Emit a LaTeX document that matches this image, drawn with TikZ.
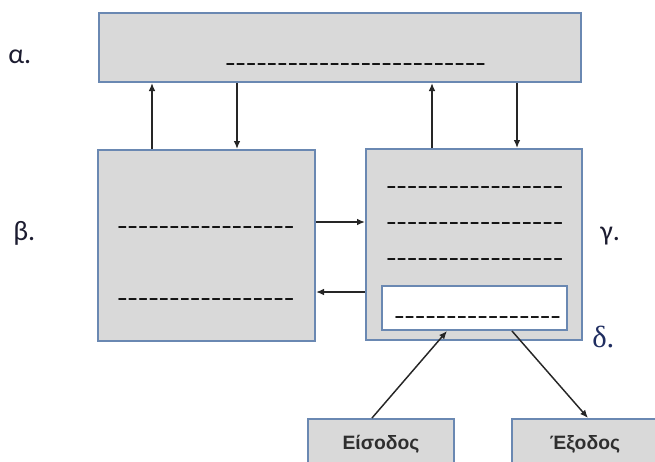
\documentclass[tikz,border=0pt]{standalone}
\usepackage{fontspec}
\usetikzlibrary{arrows.meta}
\newfontfamily\labfont{Carlito}
\newfontfamily\delfont{Liberation Serif}
\newfontfamily\dashfont[LetterSpace=1]{Carlito}
\newfontfamily\iofont{Liberation Sans}
\definecolor{boxfill}{HTML}{D9D9D9}
\definecolor{boxline}{HTML}{6A88B2}
\definecolor{labdark}{HTML}{1C1C30}
\definecolor{deltablue}{HTML}{1F2D60}
\definecolor{iotext}{HTML}{2E2E2E}
\definecolor{arrowdark}{HTML}{262626}
\newcommand\dashrow[1]{\scalebox{1}[0.75]{\foreach\i in {1,...,#1}{-}}}
\begin{document}
\begin{tikzpicture}[x=0.75pt,y=-0.75pt,
  blk/.style={draw=boxline, fill=boxfill, line width=1.5pt, rectangle, inner sep=0pt},
  conn/.style={draw=arrowdark, line width=1.1pt, -{Latex[length=6pt,width=5pt]}},
  dashtxt/.style={anchor=base west, inner sep=0pt, text=black, font=\dashfont\fontsize{24.75pt}{24.75pt}\selectfont},
  lab/.style={anchor=base west, inner sep=0pt, text=labdark, font=\labfont\fontsize{21pt}{21pt}\selectfont},
  iotxt/.style={text=iotext, font=\iofont\bfseries\fontsize{14.5pt}{14.5pt}\selectfont}]
\clip (0,0) rectangle (655,461);
\useasboundingbox (0,0) rectangle (655,461);
% boxes
\node[blk, minimum width=482*0.75pt, minimum height=69*0.75pt] (A) at (340,47.5) {};
\node[blk, minimum width=217*0.75pt, minimum height=191*0.75pt] (B) at (206.5,245.5) {};
\node[blk, minimum width=216*0.75pt, minimum height=191*0.75pt] (G) at (474,244.5) {};
\node[blk, fill=white, minimum width=185*0.75pt, minimum height=44*0.75pt] (D) at (474.5,308) {};
\node[blk, iotxt, minimum width=146*0.75pt, minimum height=50*0.75pt] (In) at (381,444) {Είσοδος};
\node[blk, iotxt, minimum width=146*0.75pt, minimum height=50*0.75pt] (Out) at (585,444) {Έξοδος};
% dashed text rows
\node[dashtxt] (da) at (225,71.5) {\dashrow{25}};
\node[dashtxt] (db1) at (117,234.5) {\dashrow{17}};
\node[dashtxt] (db2) at (117,306.5) {\dashrow{17}};
\node[dashtxt] (dg1) at (386,194.5) {\dashrow{17}};
\node[dashtxt] (dg2) at (386,230.5) {\dashrow{17}};
\node[dashtxt] (dg3) at (386,266.5) {\dashrow{17}};
\node[dashtxt] (dd) at (394,324.5) {\dashrow{16}};
% labels
\node[lab] (la) at (8,63) {α.};
\node[lab] (lb) at (13,240) {β.};
\node[lab] (lg) at (600,240) {γ.};
\node[lab, text=deltablue, font=\delfont\fontsize{23pt}{23pt}\selectfont] (ld) at (592,347) {δ.};
% connectors
\draw[conn] ([xshift=(152-206.5)*0.75pt]B.north) -- ([xshift=(152-340)*0.75pt]A.south);
\draw[conn] ([xshift=(237-340)*0.75pt]A.south) -- ([xshift=(237-206.5)*0.75pt]B.north);
\draw[conn] ([xshift=(432-474)*0.75pt]G.north) -- ([xshift=(432-340)*0.75pt]A.south);
\draw[conn] ([xshift=(517-340)*0.75pt]A.south) -- ([xshift=(517-474)*0.75pt]G.north);
\draw[conn] ([yshift=(245.5-222)*0.75pt]B.east) -- ([yshift=(244.5-222)*0.75pt]G.west);
\draw[conn] ([yshift=(244.5-292)*0.75pt]G.west) -- ([yshift=(245.5-292)*0.75pt]B.east);
\draw[conn] ([xshift=(372-381)*0.75pt]In.north) -- ([xshift=(447-474.5)*0.75pt]D.south);
\draw[conn] ([xshift=(512-474.5)*0.75pt]D.south) -- ([xshift=(588-585)*0.75pt]Out.north);
\end{tikzpicture}
\end{document}
